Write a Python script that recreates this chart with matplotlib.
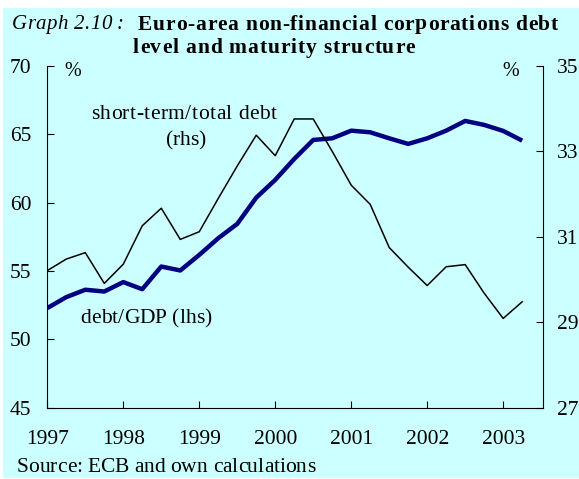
import matplotlib
matplotlib.use("Agg")
import matplotlib.pyplot as plt
from matplotlib.patches import Rectangle
from matplotlib.font_manager import findfont, FontProperties
from matplotlib.ft2font import FT2Font

# ---- data ----
quarters = ["1997Q1", "1997Q2", "1997Q3", "1997Q4",
            "1998Q1", "1998Q2", "1998Q3", "1998Q4",
            "1999Q1", "1999Q2", "1999Q3", "1999Q4",
            "2000Q1", "2000Q2", "2000Q3", "2000Q4",
            "2001Q1", "2001Q2", "2001Q3", "2001Q4",
            "2002Q1", "2002Q2", "2002Q3", "2002Q4",
            "2003Q1", "2003Q2"]

debt_gdp = [52.29, 53.09, 53.63, 53.50, 54.19, 53.67, 55.33, 55.04,
            56.18, 57.40, 58.45, 60.37, 61.67, 63.20, 64.59, 64.71,
            65.27, 65.15, 64.71, 64.30, 64.71, 65.27, 65.98, 65.69,
            65.25, 64.54]

short_term = [30.21, 30.48, 30.63, 29.91, 30.36, 31.26, 31.67, 30.94,
              31.12, 31.90, 32.66, 33.38, 32.90, 33.76, 33.76, 33.00,
              32.21, 31.76, 30.75, 30.29, 29.86, 30.30, 30.35, 29.68,
              29.09, 29.48]

year_ticks = [1997, 1998, 1999, 2000, 2001, 2002, 2003]
lhs_ticks = [45, 50, 55, 60, 65, 70]
rhs_ticks = [27, 29, 31, 33, 35]

W, H, DPI = 579, 479, 100
FONT = "Liberation Serif"
BG = "#ccffff"

x = [int(q[:4]) + (int(q[-1]) - 1) / 4 for q in quarters]

fig = plt.figure(figsize=(W / DPI, H / DPI), dpi=DPI)
fig.patch.set_facecolor("white")
fig.patches.append(Rectangle((3 / W, 1 / H), 1, 1 - 9 / H, transform=fig.transFigure,
                             facecolor=BG, edgecolor="none", zorder=-10))


def tracked(s, x0, x1, ybase, size, weight="normal", style="normal"):
    """draw s between pixel x0 and x1, spreading the letters out like the pdf does"""
    fp = FontProperties(family=FONT, weight=weight, style=style)
    f = FT2Font(findfont(fp))
    f.set_size(size, DPI)
    adv = [f.load_char(ord(c)).linearHoriAdvance / 65536 for c in s]
    extra = (x1 - x0 - sum(adv)) / max(len(s) - 1, 1)
    pos = x0
    for c, a in zip(s, adv):
        if c != " ":
            fig.text(pos / W, 1 - ybase / H, c, fontproperties=fp, fontsize=size,
                     ha="left", va="baseline")
        pos += a + extra


# title
tracked("Graph 2.10 :", 12, 124, 29, 15, style="italic")
tracked("Euro-area non-financial corporations debt", 138, 558, 29.5, 15.5, weight="bold")
tracked("level and maturity structure", 133, 415, 53, 15.5, weight="bold")

ax = fig.add_axes([47.3 / W, 1 - 407.7 / H, (542.7 - 47.3) / W, (407.7 - 66) / H])
ax.set_facecolor("none")
ax2 = ax.twinx()
ax2.set_facecolor("none")

ax.plot(x, debt_gdp, color="#000080", lw=3.2, solid_capstyle="butt")
ax2.plot(x, short_term, color="black", lw=1.1)

ax.set_xlim(1997, 2003.52)
ax.set_ylim(45, 70)
ax2.set_ylim(27, 35)

ax.set_xticks(year_ticks)
ax.set_xticklabels([str(y) for y in year_ticks])
ax.set_yticks(lhs_ticks)
ax2.set_yticks(rhs_ticks)

for a in (ax, ax2):
    a.spines["top"].set_visible(False)
    for lab in a.get_xticklabels() + a.get_yticklabels():
        lab.set_fontfamily(FONT)
        lab.set_fontsize(15.5)
ax.spines["right"].set_visible(False)
ax2.spines["left"].set_visible(False)
ax2.spines["bottom"].set_visible(False)

ax.tick_params(axis="x", direction="in", length=5, width=0.8, pad=16)
ax.tick_params(axis="y", direction="in", length=5, width=0.8, pad=11.5)
ax2.tick_params(axis="y", direction="in", length=5, width=0.8, pad=10.5)

fig.text(73 / W, 1 - 71.5 / H, "%", fontfamily=FONT, fontsize=14.5, ha="center", va="center")
fig.text(511 / W, 1 - 71.5 / H, "%", fontfamily=FONT, fontsize=14.5, ha="center", va="center")

# series labels
tracked("short-term/total debt", 90.7, 276.7, 119, 15.5)
tracked("(rhs)", 166, 205, 145, 15.5)
tracked("debt/GDP (lhs)", 80.7, 211.7, 323, 15.5)

tracked("Source: ECB and own calculations", 16.7, 315, 471.5, 15.5)

fig.savefig("out.png", dpi=DPI, facecolor=fig.get_facecolor())
